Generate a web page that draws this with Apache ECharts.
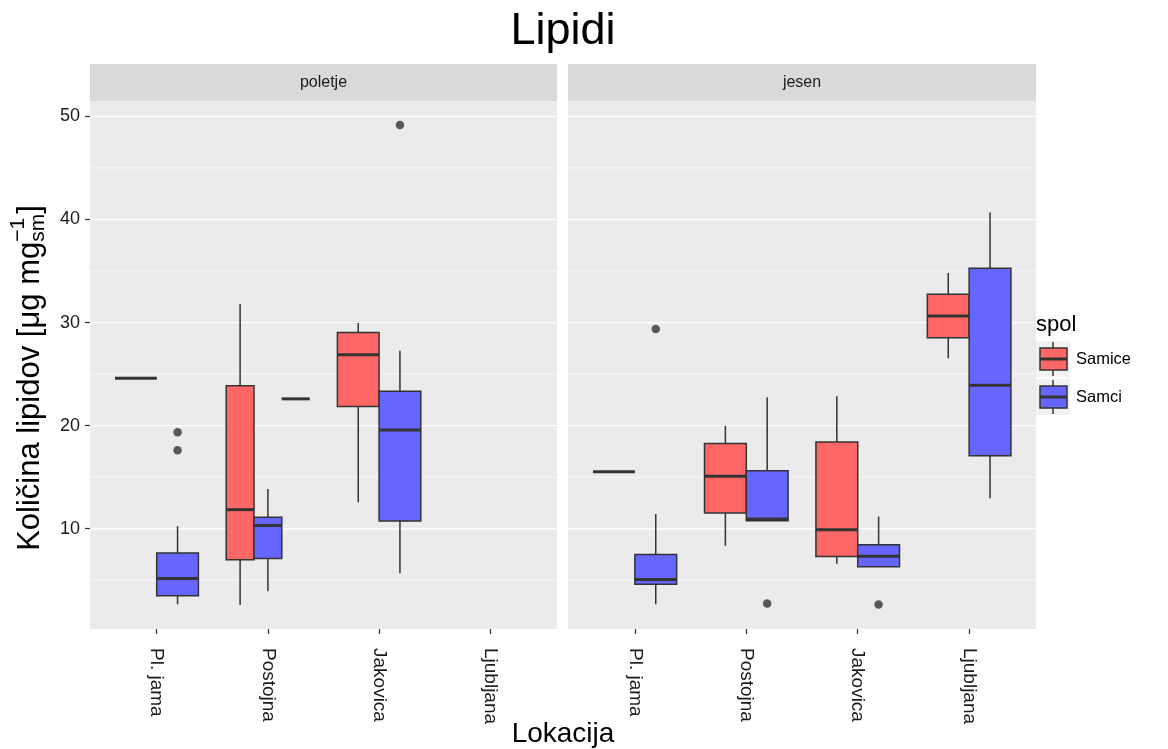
<!DOCTYPE html>
<html><head><meta charset="utf-8">
<script src="https://cdn.jsdelivr.net/npm/echarts@6/dist/echarts.min.js"></script>
<style>html,body{margin:0;padding:0;background:#fff}#chart{width:1168px;height:749px}</style>
</head><body><div id="chart"></div>
<script>
// ---------- data ----------
const categories = ['Pl. jama', 'Postojna', 'Jakovica', 'Ljubljana'];
const panelNames = ['poletje', 'jesen'];
const groupNames = ['Samice', 'Samci'];
const yTicks = [10, 20, 30, 40, 50];
const yMinorGrid = [5, 15, 25, 35, 45];
// box stats per category: [lower whisker, Q1, median, Q3, upper whisker]; null = no data
const poletjeSamice = [[24.6, 24.6, 24.6, 24.6, 24.6], [2.6, 7.0, 11.85, 23.87, 31.81], [12.58, 21.86, 26.87, 29.04, 29.97], null];
const poletjeSamci  = [[2.67, 3.5, 5.17, 7.64, 10.25], [3.94, 7.11, 10.31, 11.12, 13.85], [5.67, 10.75, 19.59, 23.33, 27.27], null];
const poletjeTretji = [null, [22.6, 22.6, 22.6, 22.6, 22.6], null, null];
const jesenSamice   = [[15.52, 15.52, 15.52, 15.52, 15.52], [8.34, 11.52, 15.09, 18.26, 19.99], [6.61, 7.31, 9.91, 18.42, 22.86], [26.54, 28.54, 30.64, 32.74, 34.81]];
const jesenSamci    = [[2.67, 4.61, 5.07, 7.51, 11.42], [10.78, 10.78, 10.95, 15.62, 22.76], [6.31, 6.31, 7.34, 8.45, 11.18], [12.95, 17.09, 23.93, 35.28, 40.69]];
// outliers per category
const poletjeSamiceOut = [[], [], [], []];
const poletjeSamciOut  = [[19.36, 17.62], [], [49.17], []];
const poletjeTretjiOut = [[], [], [], []];
const jesenSamiceOut   = [[], [], [], []];
const jesenSamciOut    = [[29.37], [2.74], [2.64], []];

// ---------- styling / layout ----------
const FONT = '"Liberation Sans", Arial, sans-serif';
const fills = { Samice: '#FF6666', Samci: '#6666FF', tretji: '#A0A0A0' };
const EDGE = '#333333';
const L = { top: 101, bottom: 629, stripTop: 64, panels: [[90, 557], [568, 1036]] };

const panels = [
  { name: panelNames[0], groups: [
    { key: 'Samice', stats: poletjeSamice, out: poletjeSamiceOut },
    { key: 'Samci', stats: poletjeSamci, out: poletjeSamciOut },
    { key: 'tretji', stats: poletjeTretji, out: poletjeTretjiOut } ] },
  { name: panelNames[1], groups: [
    { key: 'Samice', stats: jesenSamice, out: jesenSamiceOut },
    { key: 'Samci', stats: jesenSamci, out: jesenSamciOut } ] }
];

// y range as ggplot: data range expanded by 5 %
let allV = [];
panels.forEach(p => p.groups.forEach(g => {
  g.stats.forEach(s => { if (s) allV = allV.concat(s); });
  g.out.forEach(o => { allV = allV.concat(o); });
}));
const dMin = Math.min(...allV), dMax = Math.max(...allV);
const yMin = dMin - 0.05 * (dMax - dMin), yMax = dMax + 0.05 * (dMax - dMin);

function boxRender(color) {
  return function (params, api) {
    const x = api.value(0), w = api.value(1);
    const lo = api.coord([x, api.value(2)]), q1 = api.coord([x, api.value(3)]);
    const md = api.coord([x, api.value(4)]), q3 = api.coord([x, api.value(5)]);
    const hi = api.coord([x, api.value(6)]);
    const half = api.size([w, 0])[0] / 2;
    const cx = lo[0];
    const st = { stroke: EDGE, lineWidth: 1.5 };
    return { type: 'group', children: [
      { type: 'line', shape: { x1: cx, y1: hi[1], x2: cx, y2: q3[1] }, style: st },
      { type: 'line', shape: { x1: cx, y1: q1[1], x2: cx, y2: lo[1] }, style: st },
      { type: 'rect', shape: { x: cx - half, y: q3[1], width: 2 * half, height: q1[1] - q3[1] },
        style: { fill: color, stroke: EDGE, lineWidth: 1.5 } },
      { type: 'line', shape: { x1: cx - half, y1: md[1], x2: cx + half, y2: md[1] },
        style: { stroke: EDGE, lineWidth: 3 } }
    ] };
  };
}
function gridRender(params, api) {
  const y = api.coord([1, api.value(1)])[1];
  const cs = params.coordSys;
  return { type: 'line', shape: { x1: cs.x, y1: y, x2: cs.x + cs.width, y2: y },
    style: { stroke: '#FFFFFF', lineWidth: api.value(2) ? 1.4 : 0.7 } };
}

const series = [];
const grids = [], xAxes = [], yAxes = [];
panels.forEach((p, pi) => {
  const [pl, pr] = L.panels[pi];
  grids.push({ left: pl, top: L.top, width: pr - pl, height: L.bottom - L.top, show: true,
    backgroundColor: '#EBEBEB', borderWidth: 0, containLabel: false, outerBoundsMode: 'none' });
  xAxes.push({ type: 'value', gridIndex: pi, min: 0.4, max: 4.6,
    axisLine: { show: false }, splitLine: { show: false },
    axisTick: { show: true, customValues: [1, 2, 3, 4], length: 5, lineStyle: { color: EDGE, width: 1.2 } },
    axisLabel: { show: true, customValues: [1, 2, 3, 4], rotate: -90, margin: 19, fontSize: 19,
      fontFamily: FONT, color: '#1A1A1A', formatter: v => categories[Math.round(v) - 1] } });
  yAxes.push({ type: 'value', gridIndex: pi, min: yMin, max: yMax,
    axisLine: { show: false }, splitLine: { show: false },
    axisTick: { show: pi === 0, customValues: yTicks, length: 5, lineStyle: { color: EDGE, width: 1.2 } },
    axisLabel: { show: pi === 0, customValues: yTicks, margin: 10, fontSize: 18, fontFamily: FONT, color: '#1A1A1A' } });
  // grid lines
  series.push({ type: 'custom', name: 'grid' + pi, xAxisIndex: pi, yAxisIndex: pi, z: 1, silent: true,
    encode: { x: 0, y: 1 }, renderItem: gridRender,
    data: yTicks.map(v => [1, v, 1]).concat(yMinorGrid.map(v => [1, v, 0])) });
  // dodge
  const boxData = p.groups.map(() => []);
  const outData = p.groups.map(() => []);
  categories.forEach((c, ci) => {
    const present = p.groups.map((g, gi) => gi).filter(gi => p.groups[gi].stats[ci]);
    const n = present.length, w = 0.75 / Math.max(n, 1);
    present.forEach((gi, j) => {
      const x = ci + 1 - 0.375 + (j + 0.5) * w;
      boxData[gi].push([x, w].concat(p.groups[gi].stats[ci]));
      p.groups[gi].out[ci].forEach(v => outData[gi].push([x, v]));
    });
  });
  p.groups.forEach((g, gi) => {
    series.push({ type: 'custom', name: g.key, xAxisIndex: pi, yAxisIndex: pi, z: 3,
      encode: { x: 0, y: [2, 3, 4, 5, 6] }, renderItem: boxRender(fills[g.key]), data: boxData[gi] });
    if (outData[gi].length) {
      series.push({ type: 'scatter', name: g.key + ' outliers', xAxisIndex: pi, yAxisIndex: pi, z: 4,
        symbol: 'circle', symbolSize: 8.5, itemStyle: { color: EDGE }, data: outData[gi] });
    }
  });
});

// y-axis title with sub/superscript
const ctx = document.createElement('canvas').getContext('2d');
function tw(t, fs) { ctx.font = fs + 'px ' + FONT; return ctx.measureText(t).width; }
const yMain = 'Količina lipidov [μg mg', ySub = 'sm', ySup = '−1', yClose = ']';
const FS_T = 31, FS_S = 21;
const w1 = tw(yMain, FS_T), wS = Math.max(tw(ySub, FS_S), tw(ySup, FS_S)), wC = tw(yClose, FS_T);
const WT = w1 + wS + wC;
function txt(text, x, y, fs, extra) {
  return Object.assign({ type: 'text', x: x, y: y, style: { text: text, fontSize: fs, fontFamily: FONT, fill: '#000',
    align: 'left', textAlign: 'left', verticalAlign: 'middle', textVerticalAlign: 'middle' } }, extra || {});
}
const graphic = [];
// strips
panels.forEach((p, pi) => {
  const [pl, pr] = L.panels[pi];
  graphic.push({ type: 'rect', shape: { x: pl, y: L.stripTop, width: pr - pl, height: L.top - L.stripTop },
    style: { fill: '#D9D9D9' }, z: 0 });
  const t = txt(p.name, (pl + pr) / 2, (L.stripTop + L.top) / 2, 16);
  t.style.align = t.style.textAlign = 'center'; t.style.fill = '#1A1A1A';
  graphic.push(t);
});
graphic.push({ type: 'group', x: 30, y: 378, rotation: Math.PI / 2, children: [
  txt(yMain, -WT / 2, 0, FS_T),
  txt(ySub, -WT / 2 + w1, 8, FS_S),
  txt(ySup, -WT / 2 + w1, -12, FS_S),
  txt(yClose, -WT / 2 + w1 + wS, 0, FS_T)
] });
// legend
graphic.push(txt('spol', 1036, 325, 22));
groupNames.forEach((g, k) => {
  const cy = 359 + 38 * k;
  graphic.push({ type: 'rect', shape: { x: 1036, y: cy - 18, width: 34, height: 36 }, style: { fill: '#F2F2F2' } });
  graphic.push({ type: 'line', shape: { x1: 1053, y1: cy - 17, x2: 1053, y2: cy + 17 }, style: { stroke: EDGE, lineWidth: 1.5 } });
  graphic.push({ type: 'rect', shape: { x: 1040, y: cy - 11, width: 27, height: 22 }, style: { fill: fills[g], stroke: EDGE, lineWidth: 1.5 } });
  graphic.push({ type: 'line', shape: { x1: 1040, y1: cy, x2: 1067, y2: cy }, style: { stroke: EDGE, lineWidth: 3 } });
  graphic.push(txt(g, 1076, cy, 16.5));
});

const chart = echarts.init(document.getElementById('chart'), null, { renderer: 'canvas' });
chart.setOption({
  animation: false,
  backgroundColor: '#FFFFFF',
  title: [
    { text: 'Lipidi', left: 563, top: 9, padding: 0, textAlign: 'center',
      textStyle: { fontSize: 45, fontWeight: 'normal', color: '#000', fontFamily: FONT } },
    { text: 'Lokacija', left: 563, top: 720, padding: 0, textAlign: 'center',
      textStyle: { fontSize: 28, fontWeight: 'normal', color: '#000', fontFamily: FONT } }
  ],
  grid: grids, xAxis: xAxes, yAxis: yAxes, series: series, graphic: graphic
});
</script></body></html>
